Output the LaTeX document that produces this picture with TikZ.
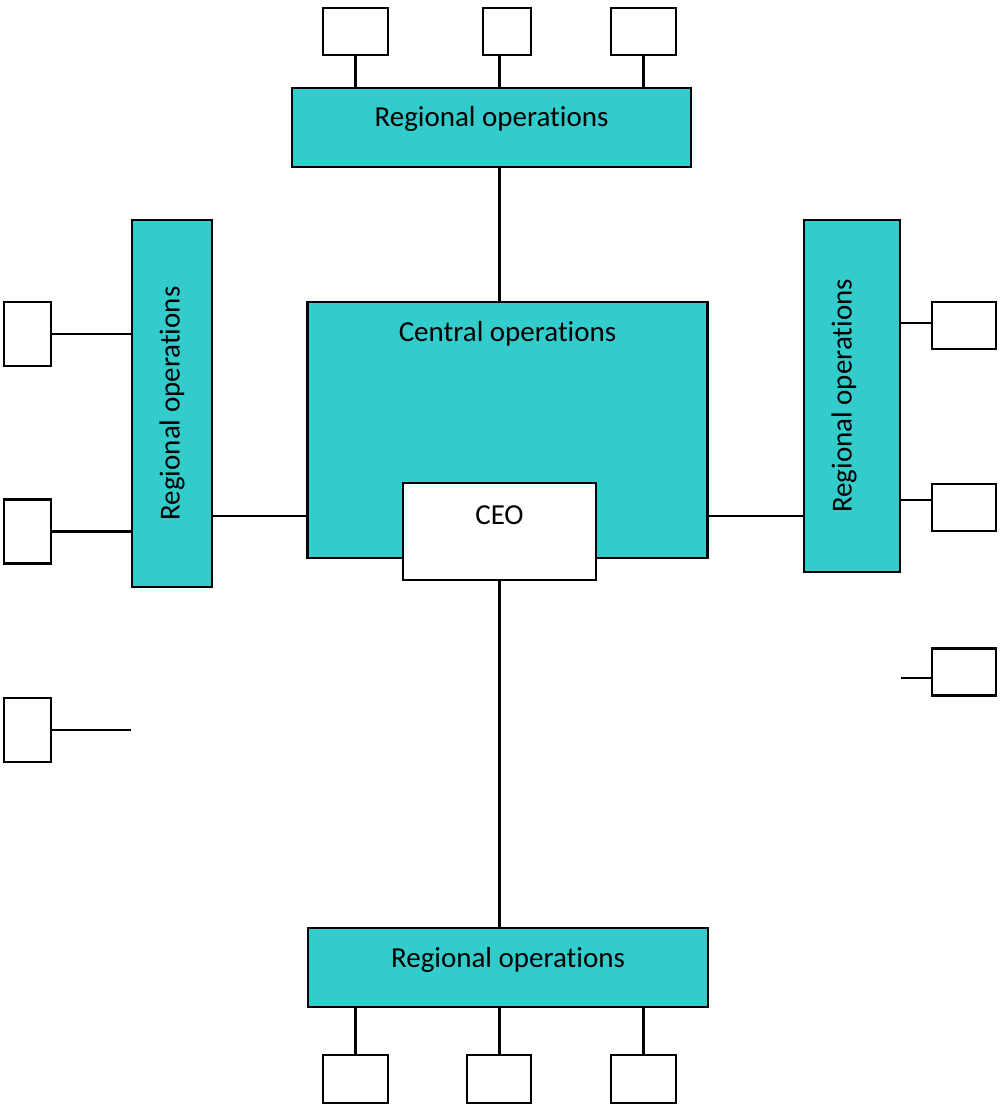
\documentclass[tikz,border=0pt]{standalone}
\usepackage{fontspec}
\setmainfont{Carlito}[Ligatures=NoCommon]
\usepackage{xcolor}
\usetikzlibrary{positioning}
\definecolor{opsteal}{HTML}{33CCCC}

\begin{document}
\begin{tikzpicture}[x=0.02cm,y=-0.02cm,
        every node/.style={font=\fontsize{16.5}{20}\selectfont},
        ops/.style={draw,line width=1.2pt,fill=opsteal,inner sep=0pt},
        unit/.style={draw,line width=1.2pt,fill=white,inner sep=0pt,
                minimum width=1.3cm,minimum height=0.94cm},
        link/.style={line width=1.2pt}]
        \useasboundingbox (0,0) rectangle (1000,1108);

        % the regional blocks and the central block
        \node[ops,minimum width=7.98cm,minimum height=1.58cm] (topreg) at (491.5,127.5) {};
        \node[ops,minimum width=8cm,minimum height=5.12cm] (central) at (507.5,430) {};
        \node[unit,minimum width=3.86cm,minimum height=1.94cm] (ceo) at (499.5,531.5) {};
        \node[ops,minimum width=8cm,minimum height=1.58cm] (botreg) at (508,967.5) {};
        \node[ops,minimum width=1.6cm,minimum height=7.34cm] (leftreg) at (172,403.5) {};
        \node[ops,minimum width=1.92cm,minimum height=7.04cm] (rightreg) at (852,396) {};

        % the small units round them
        \foreach \n/\x/\w in {t1/355.5/1.3cm, t2/507/0.96cm, t3/643.5/1.3cm}
                \node[unit,minimum width=\w] (\n) at (\x,31.5) {};
        \foreach \n/\x/\w in {b1/355.5/1.3cm, b2/499/1.28cm, b3/643.5/1.3cm}
                \node[unit,minimum width=\w,minimum height=0.96cm] (\n) at (\x,1079) {};
        \foreach \n/\y in {l1/334, l2/531.5, l3/730}
                \node[unit,minimum width=0.94cm,minimum height=1.28cm] (\n) at (27.5,\y) {};
        \foreach \n/\y in {r1/325.5, r2/507.5, r3/672}
                \node[unit,minimum width=1.28cm] (\n) at (964,\y) {};

        % labels
        \path (topreg.north) ++(0,32) node (toplbl) {Regional operations};
        \path (central.north) ++(0,33) node (centrallbl) {Central operations};
        \path (ceo.north) ++(0,33) node (ceolbl) {CEO};
        \path (botreg.north) ++(0,33) node (botlbl) {Regional operations};
        \node[rotate=90] (leftlbl) at (leftreg) {Regional operations};
        \path (rightreg.west) ++(41,0) node[rotate=90] (rightlbl) {Regional operations};

        % links
        \coordinate (hub) at (500,516);
        \foreach \n in {t1,t3}
                \draw[link] (\n.south) -- (\n.south |- topreg.north);
        \draw[link] (ceo |- t2.south) -- (ceo |- topreg.north);
        \foreach \n in {b1,b3}
                \draw[link] (\n.north) -- (\n.north |- botreg.south);
        \draw[link] (ceo |- botreg.south) -- (ceo |- b2.north);
        \draw[link] (ceo |- topreg.south) -- (ceo |- central.north);
        \draw[link] (ceo.south) -- (ceo |- botreg.north);
        \draw[link] (leftreg.east |- hub) -- (central.west |- hub);
        \draw[link] (central.east |- hub) -- (rightreg.west |- hub);
        \foreach \n in {l1,l2,l3}
                \draw[link] (\n.east) -- (\n.east -| leftreg.west);
        \foreach \n/\s in {r1/0.05cm, r2/0.15cm, r3/-0.12cm}
                \draw[link] ([yshift=\s]\n.west) -- ([yshift=\s]\n.west -| rightreg.east);
\end{tikzpicture}
\end{document}
